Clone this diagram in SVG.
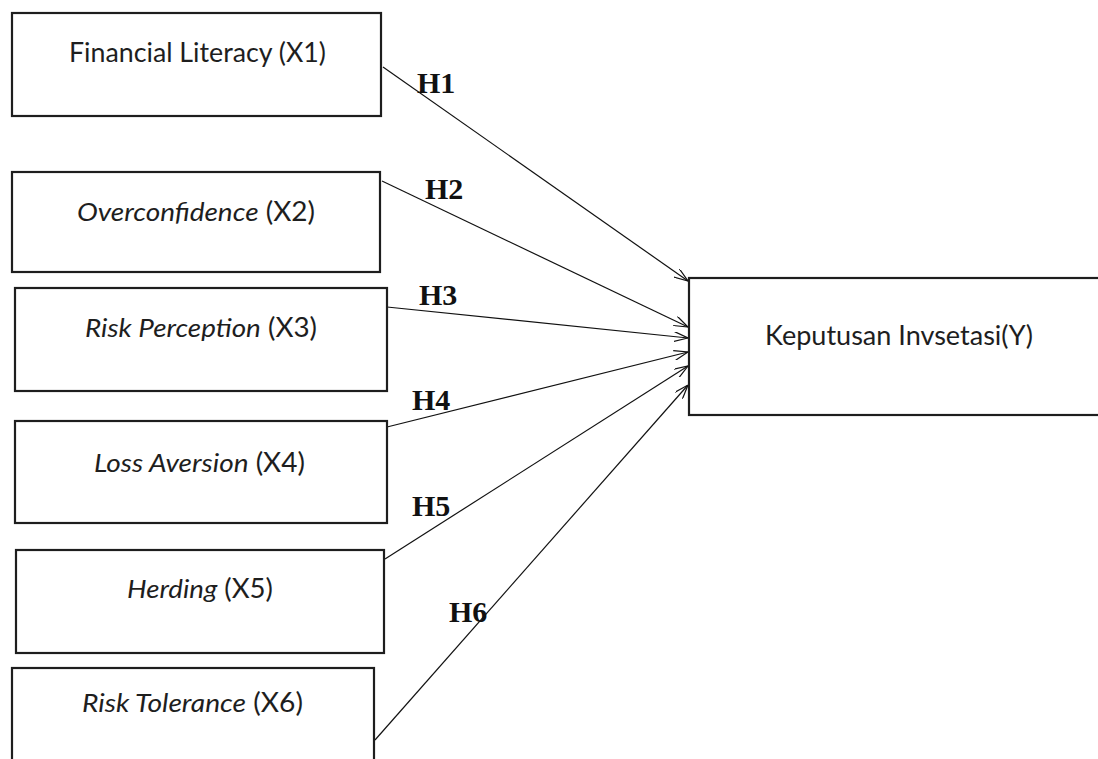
<svg xmlns="http://www.w3.org/2000/svg" width="1098" height="759" viewBox="0 0 1098 759">
<defs>
<style>
.box{fill:#fff;stroke:#1e1e1e;stroke-width:2.2}
.lbl{font-family:Lato,"Open Sans","Liberation Sans",sans-serif;font-size:26px;fill:#1e1e1e}
.it{font-style:italic}
.h{font-family:"Liberation Serif","Times New Roman",serif;font-size:30px;font-weight:bold;fill:#111}
.edge{stroke:#111;stroke-width:1.2;fill:none;marker-end:url(#arr)}
</style>
<marker id="arr" viewBox="0 0 14 10" refX="14" refY="5" markerWidth="14" markerHeight="10" markerUnits="userSpaceOnUse" orient="auto">
<path d="M0,0 L14,5 L0,10" fill="none" stroke="#111" stroke-width="1.2"/>
</marker>
</defs>
<rect width="1098" height="759" fill="#fff"/>
<g id="connectors">
<line class="edge" x1="383" y1="67" x2="688" y2="281"/>
<line class="edge" x1="382" y1="181" x2="688" y2="327"/>
<line class="edge" x1="387" y1="307" x2="688" y2="338"/>
<line class="edge" x1="387" y1="427" x2="688" y2="352"/>
<line class="edge" x1="385" y1="559" x2="688" y2="366"/>
<line class="edge" x1="375" y1="740" x2="688" y2="385"/>
<text class="h" x="417" y="93">H1</text>
<text class="h" x="425" y="199">H2</text>
<text class="h" x="419" y="305">H3</text>
<text class="h" x="412" y="410">H4</text>
<text class="h" x="412" y="516">H5</text>
<text class="h" x="449" y="622">H6</text>
</g>
<g id="x1">
<rect class="box" x="12" y="13" width="369" height="103"/>
<text class="lbl" x="69" y="62" textLength="257" lengthAdjust="spacingAndGlyphs">Financial Literacy (X1)</text>
</g>
<g id="x2">
<rect class="box" x="12" y="172" width="368" height="100"/>
<text class="lbl" x="77" y="221" textLength="238" lengthAdjust="spacingAndGlyphs"><tspan class="it">Overconfidence</tspan> (X2)</text>
</g>
<g id="x3">
<rect class="box" x="15" y="288" width="372" height="103"/>
<text class="lbl" x="85" y="337" textLength="232" lengthAdjust="spacingAndGlyphs"><tspan class="it">Risk Perception</tspan> (X3)</text>
</g>
<g id="x4">
<rect class="box" x="15" y="421" width="372" height="102"/>
<text class="lbl" x="94" y="472" textLength="211" lengthAdjust="spacingAndGlyphs"><tspan class="it">Loss Aversion</tspan> (X4)</text>
</g>
<g id="x5">
<rect class="box" x="16" y="550" width="368" height="103"/>
<text class="lbl" x="127" y="598" textLength="146" lengthAdjust="spacingAndGlyphs"><tspan class="it">Herding</tspan> (X5)</text>
</g>
<g id="x6">
<rect class="box" x="12" y="668" width="362" height="110"/>
<text class="lbl" x="82" y="712" textLength="221" lengthAdjust="spacingAndGlyphs"><tspan class="it">Risk Tolerance</tspan> (X6)</text>
</g>
<g id="y">
<rect class="box" x="689" y="278" width="430" height="137"/>
<text class="lbl" x="765" y="345" textLength="268" lengthAdjust="spacingAndGlyphs">Keputusan Invsetasi(Y)</text>
</g>
</svg>
